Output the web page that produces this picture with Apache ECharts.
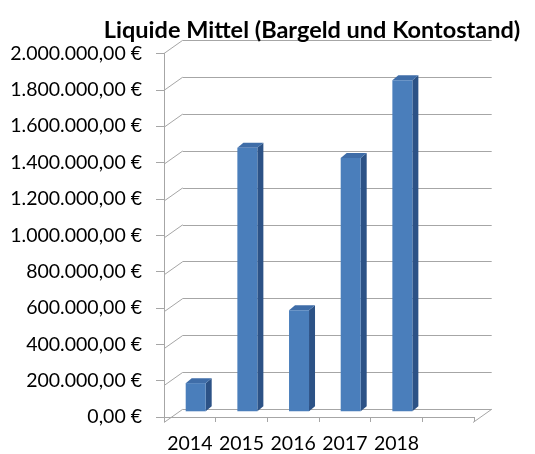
<!DOCTYPE html>
<html>
<head>
<meta charset="utf-8">
<script src="https://cdn.jsdelivr.net/npm/echarts@6/dist/echarts.min.js"></script>
<style>
html,body{margin:0;padding:0;background:#fff;}
#chart{width:535px;height:454px;}
</style>
</head>
<body>
<div id="chart"></div>
<script>
const title = 'Liquide Mittel (Bargeld und Kontostand)';
const categories = ['2014', '2015', '2016', '2017', '2018', ''];
const values = [155000, 1450000, 556000, 1393000, 1822000];
const yMin = 0;
const yMax = 2000000;
const yStep = 200000;
const tickValues = [0, 200000, 400000, 600000, 800000, 1000000, 1200000, 1400000, 1600000, 1800000, 2000000];

function fmtEuro(v) {
  const s = Math.round(v).toString().replace(/\B(?=(\d{3})+(?!\d))/g, '.');
  return s + ',00 €';
}

const DEPTH = [18.7, -13.2];   // back wall offset (px)
const LINE = '#A6A6A6';
const FONT = 'Lato';

const chart = echarts.init(document.getElementById('chart'), null, {renderer: 'canvas'});

const option = {
  animation: false,
  backgroundColor: '#ffffff',
  title: {
    text: title,
    left: 307,
    textAlign: 'center',
    top: 13,
    textStyle: {fontFamily: FONT, fontWeight: 'bold', fontSize: 23.5, color: '#000'}
  },
  grid: [
    {left: 164, right: 61, top: 53.5, bottom: 31.5},
    {left: 182.7, right: 43.3, top: 40.3, bottom: 44.7}
  ],
  xAxis: [
    {
      type: 'category', gridIndex: 0, data: categories,
      axisLine: {show: true, lineStyle: {color: LINE, width: 1}},
      axisTick: {show: true, length: 5, lineStyle: {color: LINE}},
      axisLabel: {fontFamily: FONT, fontSize: 19.5, color: '#000', margin: 17, interval: 0},
      splitLine: {show: false}
    },
    {
      type: 'value', gridIndex: 1, min: 0, max: 6, show: false
    }
  ],
  yAxis: [
    {
      type: 'value', gridIndex: 0, min: yMin, max: yMax, interval: yStep,
      axisLine: {show: true, lineStyle: {color: LINE, width: 1}},
      axisTick: {show: true, length: 8, lineStyle: {color: LINE}},
      axisLabel: {fontFamily: FONT, fontSize: 19.5, color: '#000', margin: 22, formatter: fmtEuro},
      splitLine: {show: false}
    },
    {
      type: 'value', gridIndex: 1, min: yMin, max: yMax, interval: yStep,
      axisLine: {show: false}, axisTick: {show: false}, axisLabel: {show: false},
      splitLine: {show: true, lineStyle: {color: LINE, width: 1}}
    }
  ],
  series: [
    {
      // depth connectors from front ticks to the back wall gridlines
      type: 'custom', xAxisIndex: 1, yAxisIndex: 1, silent: true, z: 1,
      data: tickValues.map(v => [0, v]).concat([[6, 0]]),
      renderItem: function (params, api) {
        const p = api.coord([api.value(0), api.value(1)]);
        return {
          type: 'line',
          shape: {x1: p[0] - DEPTH[0], y1: p[1] - DEPTH[1], x2: p[0], y2: p[1]},
          style: {stroke: LINE, lineWidth: 1}
        };
      }
    },
    {
      type: 'custom', xAxisIndex: 0, yAxisIndex: 0, z: 5,
      data: values.map((v, i) => [i, v]),
      renderItem: function (params, api) {
        const i = api.value(0);
        const base = api.coord([i, 0]);
        const top = api.coord([i, api.value(1)]);
        const band = api.size([1, 0])[0];
        const lift = -5.7;           // bar plane depth (vertical shift)
        const side = [6, -5];        // bar thickness
        const X0 = base[0] - band * 0.08;
        const X1 = X0 + band * 0.387;
        const yb = base[1] + lift;
        const yt = top[1] + lift;
        return {
          type: 'group',
          children: [
            {type: 'polygon', shape: {points: [[X1, yt], [X1 + side[0], yt + side[1]], [X1 + side[0], yb + side[1]], [X1, yb]]},
             style: {fill: '#2C5286'}},
            {type: 'polygon', shape: {points: [[X0, yt], [X0 + side[0], yt + side[1]], [X1 + side[0], yt + side[1]], [X1, yt]]},
             style: {fill: '#3F6DA8'}},
            {type: 'rect', shape: {x: X0, y: yt, width: X1 - X0, height: yb - yt},
             style: {fill: '#4A7EBB'}}
          ]
        };
      }
    }
  ]
};
chart.setOption(option);
</script>
</body>
</html>
